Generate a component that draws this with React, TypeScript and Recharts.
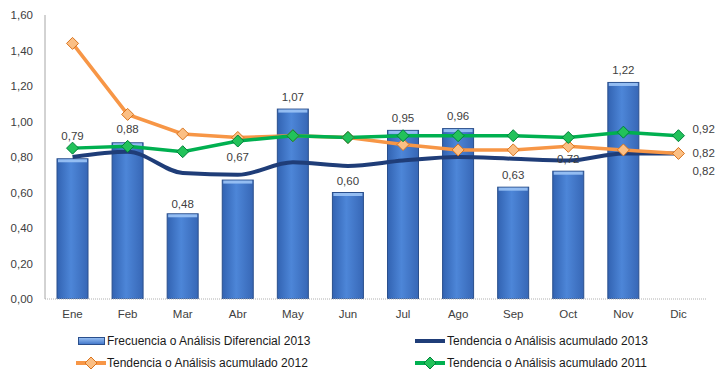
import React from 'react';
import { ComposedChart, Bar, Line, XAxis, YAxis, LabelList, Legend } from 'recharts';

const months = ['Ene', 'Feb', 'Mar', 'Abr', 'May', 'Jun', 'Jul', 'Ago', 'Sep', 'Oct', 'Nov', 'Dic'];
const frecuencia2013: (number | null)[] = [0.79, 0.88, 0.48, 0.67, 1.07, 0.6, 0.95, 0.96, 0.63, 0.72, 1.22, null];
const tendencia2013 = [0.8, 0.83, 0.71, 0.7, 0.77, 0.75, 0.78, 0.8, 0.79, 0.78, 0.82, 0.82];
const tendencia2012 = [1.44, 1.04, 0.93, 0.91, 0.92, 0.91, 0.87, 0.84, 0.84, 0.86, 0.84, 0.82];
const tendencia2011 = [0.85, 0.86, 0.83, 0.89, 0.92, 0.91, 0.92, 0.92, 0.92, 0.91, 0.94, 0.92];
const yTicks = [0, 0.2, 0.4, 0.6, 0.8, 1.0, 1.2, 1.4, 1.6];

const seriesNames = {
  f13: 'Frecuencia o Análisis Diferencial 2013',
  t13: 'Tendencia o Análisis acumulado 2013',
  t12: 'Tendencia o Análisis acumulado 2012',
  t11: 'Tendencia o Análisis acumulado 2011',
};

const data = months.map((m, i) => ({
  month: m,
  f13: frecuencia2013[i],
  t13: tendencia2013[i],
  t12: tendencia2012[i],
  t11: tendencia2011[i],
}));

const FONT = '"Liberation Sans", Arial, sans-serif';
const TEXT = '#404040';
const DARK = '#1f3d78';
const ORANGE = '#f79646';
const GREEN = '#00b050';

const fmt = (v: number) => v.toFixed(2).replace('.', ',');

// extra vertical lift for some bar labels (style only)
const barLabelLift = [10.5, 1.5, -2.5, 10.5, 0, -1, 0, 0, 0, 0, 0, 0];

const BarShape = (props: any) => {
  const { x, y, width, height } = props;
  if (!height || height <= 0) return null;
  return (
    <g>
      <rect x={x} y={y} width={width} height={height} fill="url(#barGrad)" stroke="#2a4f8c" strokeWidth={1} />
      <rect x={x + 1} y={y + 0.5} width={width - 2} height={3} fill="#9cc4f6" opacity={0.9} />
    </g>
  );
};

const makeDiamond = (fill: string, stroke: string) => (props: any) => {
  const { cx, cy, index } = props;
  if (cx == null || cy == null) return <g key={`d-${index}`} />;
  const r = 6;
  return (
    <polygon
      key={`d-${index}`}
      points={`${cx},${cy - r} ${cx + r},${cy} ${cx},${cy + r} ${cx - r},${cy}`}
      fill={fill}
      stroke={stroke}
      strokeWidth={1}
    />
  );
};

const BarLabel = (props: any) => {
  const { x, y, width, value, index } = props;
  if (value == null) return null;
  return (
    <text
      x={x + width / 2}
      y={y - 8.5 - (barLabelLift[index] || 0)}
      textAnchor="middle"
      fontFamily={FONT}
      fontSize={11.5}
      fill={TEXT}
    >
      {fmt(value)}
    </text>
  );
};

const makeEndLabel = (dy: number) => (props: any) => {
  const { x, y, value, index } = props;
  if (index !== months.length - 1 || value == null) return null;
  return (
    <text x={x + 14} y={y + 4 + dy} textAnchor="start" fontFamily={FONT} fontSize={11.5} fill={TEXT}>
      {fmt(value)}
    </text>
  );
};

const LegendContent = () => {
  const textStyle: React.CSSProperties = {
    position: 'absolute',
    fontFamily: FONT,
    fontSize: 12,
    color: '#1a1a1a',
    lineHeight: '16px',
    whiteSpace: 'nowrap',
  };
  const lineIcon = (left: number, top: number, color: string, marker?: { fill: string; stroke: string }) => (
    <svg style={{ position: 'absolute', left, top }} width={30} height={14}>
      <line x1={0} y1={7} x2={30} y2={7} stroke={color} strokeWidth={4} />
      {marker && (
        <polygon points="15,1 21,7 15,13 9,7" fill={marker.fill} stroke={marker.stroke} strokeWidth={1} />
      )}
    </svg>
  );
  return (
    <div style={{ position: 'relative', width: 722, height: 44 }}>
      <svg style={{ position: 'absolute', left: 78, top: 8 }} width={27} height={8}>
        <rect x={0.5} y={0.5} width={26} height={7} fill="url(#legGrad)" stroke="#2a4f8c" strokeWidth={1} />
      </svg>
      <div style={{ ...textStyle, left: 107, top: 4 }}>{seriesNames.f13}</div>
      {lineIcon(415, 5, DARK)}
      <div style={{ ...textStyle, left: 447, top: 4 }}>{seriesNames.t13}</div>
      {lineIcon(76, 27, ORANGE, { fill: '#fbbf84', stroke: '#d9731c' })}
      <div style={{ ...textStyle, left: 107, top: 26 }}>{seriesNames.t12}</div>
      {lineIcon(415, 27, GREEN, { fill: '#22c25a', stroke: '#00803a' })}
      <div style={{ ...textStyle, left: 447, top: 26 }}>{seriesNames.t11}</div>
      <svg width={0} height={0} style={{ position: 'absolute' }}>
        <defs>
          <linearGradient id="legGrad" x1="0" y1="0" x2="0" y2="1">
            <stop offset="0%" stopColor="#9cc3f5" />
            <stop offset="100%" stopColor="#3f74c8" />
          </linearGradient>
        </defs>
      </svg>
    </div>
  );
};

export default function App() {
  return (
    <div style={{ position: 'absolute', left: 0, top: 0, width: 722, height: 385, background: '#fff' }}>
      <ComposedChart
        width={722}
        height={385}
        data={data}
        margin={{ top: 15, right: 16, left: 0, bottom: 12 }}
        barCategoryGap="22%"
      >
        <defs>
          <linearGradient id="barGrad" x1="0" y1="0" x2="1" y2="0">
            <stop offset="0%" stopColor="#3263b2" />
            <stop offset="45%" stopColor="#4d86d8" />
            <stop offset="100%" stopColor="#3767b6" />
          </linearGradient>
        </defs>
        <XAxis
          dataKey="month"
          height={30}
          tickLine={false}
          tickSize={0}
          tickMargin={11}
          axisLine={{ stroke: '#b0b0b0', strokeWidth: 1, strokeDasharray: '1 1' }}
          tick={{ fontFamily: FONT, fontSize: 11.5, fill: TEXT }}
          interval={0}
        />
        <YAxis
          width={45}
          domain={[0, 1.6]}
          ticks={yTicks}
          tickFormatter={(v: number) => fmt(v)}
          tickLine={false}
          tickSize={0}
          tickMargin={12}
          axisLine={{ stroke: '#a6a6a6', strokeWidth: 1 }}
          tick={{ fontFamily: FONT, fontSize: 11.5, fill: TEXT }}
          allowDataOverflow
        />
        <Legend verticalAlign="bottom" align="left" wrapperStyle={{ left: 0, width: 722 }} content={() => <LegendContent />} />
        <Bar dataKey="f13" name={seriesNames.f13} barSize={31} shape={<BarShape />} isAnimationActive={false}>
          <LabelList dataKey="f13" content={<BarLabel />} />
        </Bar>
        <Line
          type="monotone"
          dataKey="t13"
          name={seriesNames.t13}
          stroke={DARK}
          strokeWidth={4}
          dot={false}
          activeDot={false}
          isAnimationActive={false}
        >
          <LabelList dataKey="t13" content={makeEndLabel(18)} />
        </Line>
        <Line
          type="linear"
          dataKey="t12"
          name={seriesNames.t12}
          stroke={ORANGE}
          strokeWidth={3.5}
          dot={makeDiamond('#fbbf84', '#d9731c')}
          activeDot={false}
          isAnimationActive={false}
        >
          <LabelList dataKey="t12" content={makeEndLabel(0)} />
        </Line>
        <Line
          type="linear"
          dataKey="t11"
          name={seriesNames.t11}
          stroke={GREEN}
          strokeWidth={3.5}
          dot={makeDiamond('#22c25a', '#00803a')}
          activeDot={false}
          isAnimationActive={false}
        >
          <LabelList dataKey="t11" content={makeEndLabel(-7)} />
        </Line>
      </ComposedChart>
    </div>
  );
}
